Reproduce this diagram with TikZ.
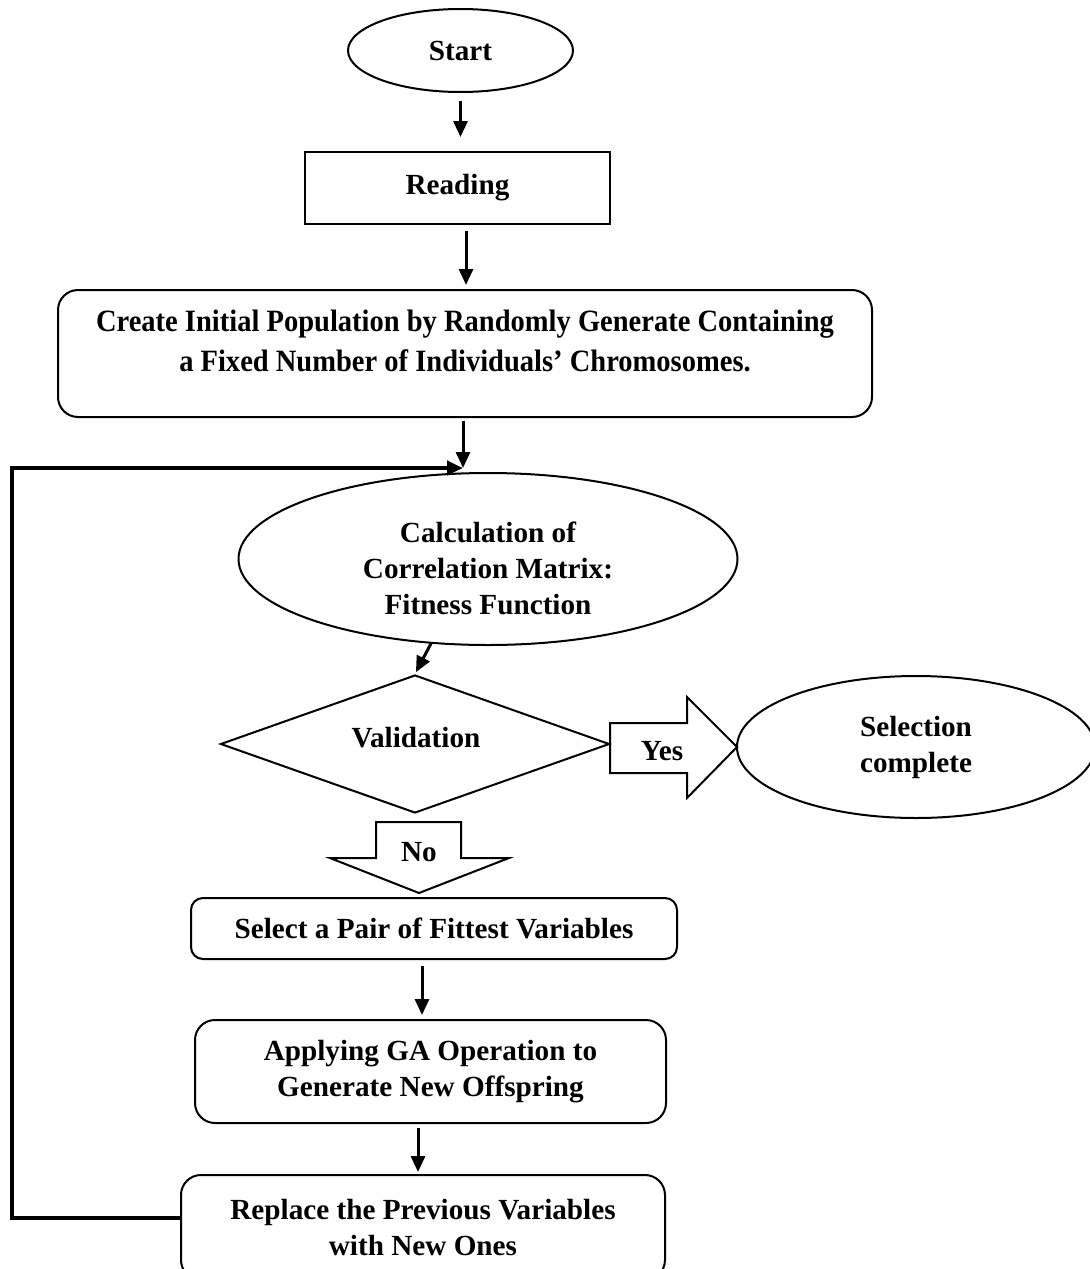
\documentclass[tikz,border=0pt]{standalone}
\usepackage{fontspec}
\setmainfont{Liberation Serif}
\newfontfamily\narrowserif[FakeStretch=0.92]{Liberation Serif}
\usetikzlibrary{shapes.geometric,arrows.meta}

\tikzset{
	base/.style={draw, line width=1pt, align=center, inner sep=0pt, font=\fontsize{14.6}{18}\selectfont\bfseries},
	oval/.style={base, ellipse},
	box/.style={base, rectangle},
	rbox/.style={base, rectangle, rounded corners=8pt},
	decide/.style={base, diamond},
	words/.style={align=center, inner sep=0pt, font=\fontsize{14.6}{18}\selectfont\bfseries},
	flow/.style={-{Triangle[length=8pt,width=7pt]}, line width=1.5pt, shorten <=3pt, shorten >=2pt},
	loopline/.style={-{Triangle[length=8pt,width=7pt]}, line width=2pt},
	blockarrow/.style={line width=1pt, line join=miter}
}

\begin{document}
\begin{tikzpicture}[x=0.5pt, y=-0.5pt]
	\useasboundingbox (0,0) rectangle (1089,1269);

	\node[oval, minimum width=112.5pt, minimum height=41.5pt] (start) at (460.5,50.5) {Start};
	\node[box, minimum width=152.5pt, minimum height=36pt] (reading) at (457.5,188) {Reading};
	\node[rbox, rounded corners=10pt, minimum width=407pt, minimum height=63.5pt] (create) at (465,353.5) {};
	\node[words, font=\narrowserif\fontsize{15.5}{20}\selectfont\bfseries] (createtxt) at (465,341)
		{Create Initial Population by Randomly Generate Containing\\a Fixed Number of Individuals’ Chromosomes.};
	\coordinate (join) at (463,468);
	\coordinate (corner) at (12,468);
	\coordinate (midup) at (466,0);

	\node[oval, minimum width=249.5pt, minimum height=86pt] (calc) at (488,559) {};
	\node[words] (calctxt) at (488,568) {Calculation of\\Correlation Matrix:\\Fitness Function};

	\node[decide, minimum width=194.5pt, minimum height=69pt] (valid) at (415,744) {};
	\node[words] (validtxt) at (416,738) {Validation};

	\node[oval, minimum width=179pt, minimum height=71pt] (done) at (916,747) {Selection\\complete};

	\draw[blockarrow] (610,723) -- (687,723) -- (687,697) -- (737,747) -- (687,798) -- (687,773) -- (610,773) -- cycle;
	\node[words] (yes) at (662,751) {Yes};
	\draw[blockarrow] (376,822) -- (461,822) -- (461,858) -- (509,858) -- (419,893) -- (330,858) -- (376,858) -- cycle;
	\node[words] (no) at (419,852) {No};

	\node[rbox, rounded corners=6pt, minimum width=243pt, minimum height=30.5pt] (pick) at (434,928.5) {Select a Pair of Fittest Variables};
	\node[rbox, rounded corners=10pt, minimum width=235.5pt, minimum height=51.5pt] (apply) at (430.5,1071.5) {Applying GA Operation to\\Generate New Offspring};
	\node[rbox, rounded corners=10pt, minimum width=242pt, minimum height=52.5pt] (replace) at (423,1227.5) {Replace the Previous Variables\\with New Ones};

	\draw[flow, shorten <=4pt, shorten >=7pt] (start.south) -- (start.south |- reading.north);
	\draw[flow] (reading.south -| midup) -- (create.north -| midup);
	\draw[flow, shorten >=0pt, shorten <=1.5pt] (create.south -| join) -- (join);
	\draw[flow, shorten <=0pt, shorten >=1pt] (calc.236) -- (valid.north);
	\draw[flow] (pick.south -| 422,0) -- (apply.north -| 422,0);
	\draw[flow, shorten <=2pt, shorten >=1pt] (apply.south -| 418,0) -- (replace.north -| 418,0);

	\draw[loopline] ([yshift=5pt]replace.west) -| (corner) -- (join);
\end{tikzpicture}
\end{document}
